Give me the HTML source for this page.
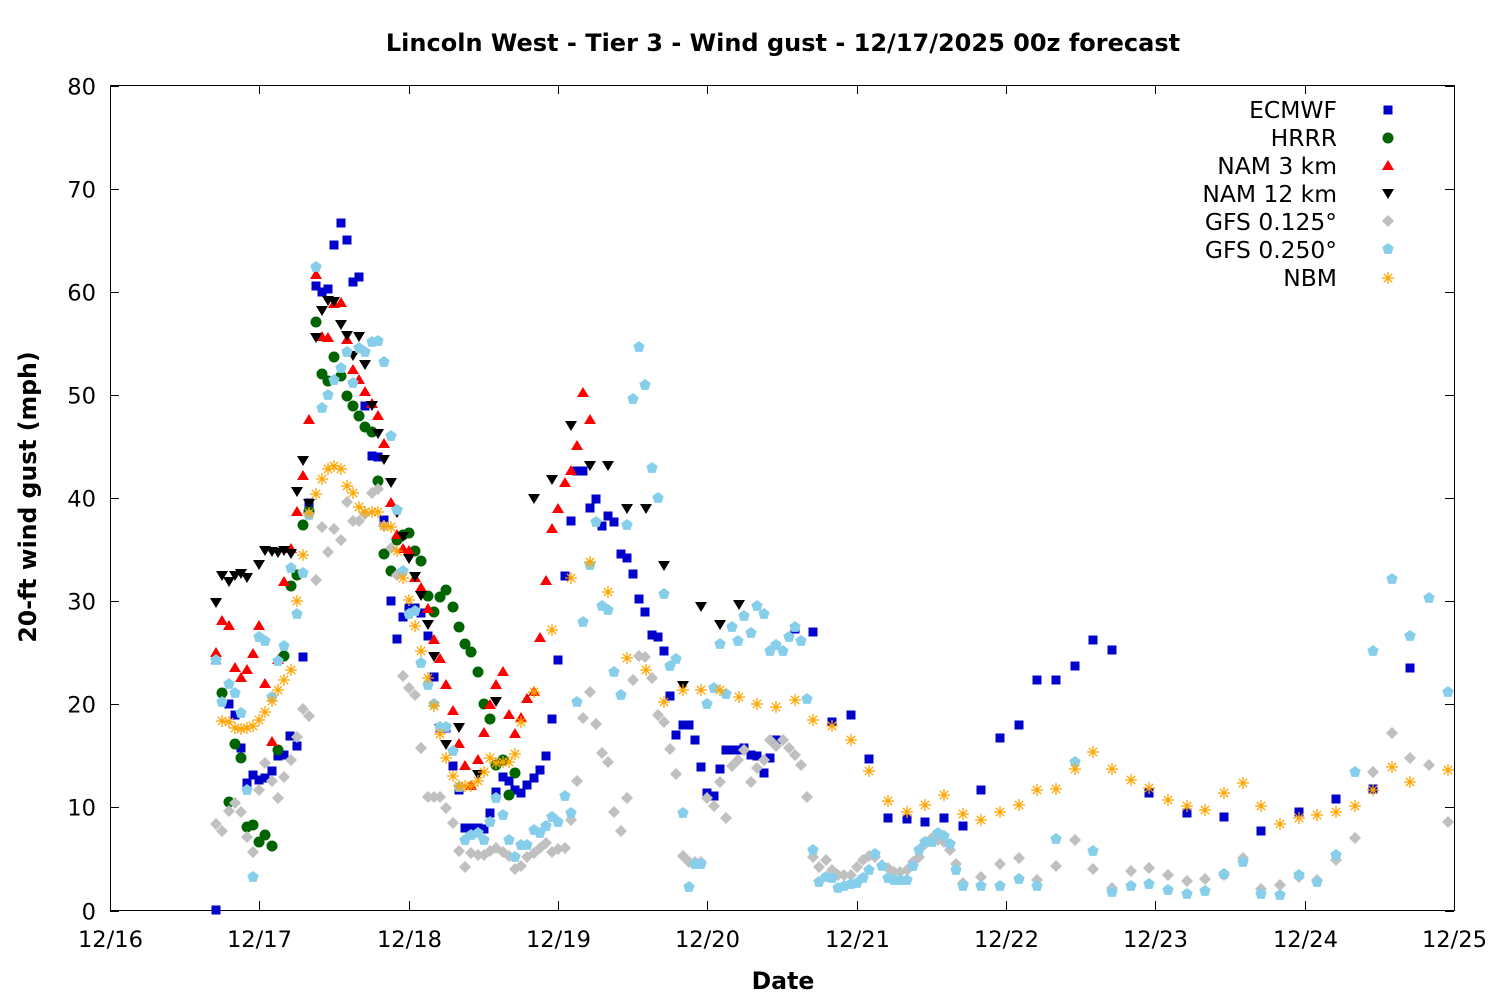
<!DOCTYPE html>
<html><head><meta charset="utf-8"><style>
html,body{margin:0;padding:0;background:#fff}
svg{display:block;font-family:"DejaVu Sans","Liberation Sans",sans-serif}
</style></head><body>
<svg id="c" width="1500" height="1000" xmlns="http://www.w3.org/2000/svg">
<rect width="1500" height="1000" fill="#fff"/>
<text x="783" y="51" font-size="24" font-weight="bold" text-anchor="middle">Lincoln West - Tier 3 - Wind gust - 12/17/2025 00z forecast</text>
<text x="783" y="989" font-size="23.6" font-weight="bold" text-anchor="middle">Date</text>
<text transform="translate(36,497) rotate(-90)" font-size="23.6" font-weight="bold" text-anchor="middle">20-ft wind gust (mph)</text>
<g id="axes" stroke="#000" stroke-width="1" fill="none"></g>
<g id="lab" font-size="22.6"></g>
<g id="pts"></g>
<g font-size="23.4" text-anchor="end">
<text x="1337" y="118">ECMWF</text><text x="1337" y="146">HRRR</text><text x="1337" y="174">NAM 3 km</text><text x="1337" y="202">NAM 12 km</text><text x="1337" y="230">GFS 0.125°</text><text x="1337" y="258">GFS 0.250°</text><text x="1337" y="286">NBM</text>
</g>
</svg>
<script>
var NS="http://www.w3.org/2000/svg";
function el(p,t,a){var e=document.createElementNS(NS,t);for(var k in a)e.setAttribute(k,a[k]);p.appendChild(e);return e;}
var ax=document.getElementById('axes'),lab=document.getElementById('lab'),pts=document.getElementById('pts');
el(ax,'rect',{x:110.5,y:85.5,width:1344,height:825});
for(var i=0;i<=8;i++){var y=910.5-i*103.125;y=Math.round(y)+0.5;
el(ax,'path',{d:'M110 '+y+'h9M1454 '+y+'h-9'});
var t=el(lab,'text',{x:96,y:y+8,'text-anchor':'end'});t.textContent=(i*10);}
var dl=['12/16','12/17','12/18','12/19','12/20','12/21','12/22','12/23','12/24','12/25'];
for(var i=0;i<=9;i++){var x=Math.round(110+i*149.33)+0.5;
el(ax,'path',{d:'M'+x+' 910v-9M'+x+' 85v9'});
var t=el(lab,'text',{x:x,y:947,'text-anchor':'middle'});t.textContent=dl[i];}
function P(s){var a=s.split(/[(),\s]+/).filter(function(v){return v!=='';}).map(Number);var r=[];for(var i=0;i+1<a.length;i+=2)r.push([a[i],a[i+1]]);return r;}
var E=P("(216,910),(216,660),(229,704),(235,715),(241,748),(247,783),(253,775),(259,780),(265,778),(272,771),(278,756),(284,755),(290,736),(297,746),(303,657),(309,503),(316,286),(322,292),(328,289),(334,245),(341,223),(347,240),(353,282),(359,277),(365,406),(372,456),(378,457),(384,520),(391,601),(397,639),(403,617),(409,608),(415,608),(421,613),(428,636),(434,677),(440,728),(446,728),(453,766),(459,790),(465,828),(471,828),(478,828),(484,829),(490,813),(496,792),(503,777),(509,781),(515,790),(521,793),(527,785),(534,778),(540,770),(546,756),(552,719),(558,660),(565,576),(571,521),(577,471),(583,471),(590,508),(596,499),(602,526),(608,516),(614,522),(621,554),(627,558),(633,574),(639,599),(645,612),(652,635),(658,637),(664,651),(670,696),(676,735),(683,725),(689,725),(695,740),(701,767),(707,793),(714,796),(720,769),(726,750),(732,750),(738,750),(744,748),(751,755),(757,756),(764,773),(770,758),(776,740),(795,629),(813,632),(832,722),(851,715),(869,759),(888,818),(907,819),(925,822),(944,818),(963,826),(981,790),(1000,738),(1019,725),(1037,680),(1056,680),(1075,666),(1093,640),(1112,650),(1149,793),(1187,813),(1224,817),(1261,831),(1299,812),(1336,799),(1373,789),(1410,668)");
var H=P("(222,693),(229,802),(235,744),(241,758),(247,827),(253,825),(259,842),(265,835),(272,846),(278,750),(284,656),(291,586),(297,575),(303,525),(309,511),(316,322),(322,374),(328,381),(334,357),(341,376),(347,396),(353,406),(359,416),(365,427),(372,432),(378,481),(384,554),(391,571),(397,540),(403,535),(409,533),(415,551),(421,561),(428,596),(434,612),(440,597),(446,590),(453,607),(459,627),(465,644),(471,652),(478,672),(484,704),(490,719),(496,765),(503,760),(509,795),(515,773)");
var N3=P("(216,653),(222,621),(229,626),(235,668),(241,678),(247,670),(253,654),(259,626),(265,684),(272,742),(278,660),(284,582),(291,549),(297,512),(303,476),(309,420),(316,275),(322,337),(328,338),(334,304),(341,303),(347,340),(353,370),(359,380),(365,392),(372,404),(378,416),(384,444),(391,503),(397,535),(403,549),(409,551),(415,578),(421,588),(428,609),(434,640),(440,659),(446,685),(453,711),(459,744),(465,766),(471,786),(478,760),(484,733),(490,705),(496,685),(503,672),(509,715),(515,734),(521,718),(527,699),(534,692),(540,638),(546,581),(552,529),(558,509),(565,483),(571,471),(577,446),(583,393),(590,420)");
var N12=P("(216,602),(222,575),(229,581),(235,575),(241,573),(247,577),(259,564),(265,550),(272,551),(278,552),(284,550),(291,553),(297,491),(303,460),(309,503),(316,337),(322,310),(328,300),(334,301),(341,324),(347,335),(353,355),(359,336),(365,364),(372,405),(378,433),(384,459),(391,482),(397,512),(403,536),(409,558),(415,576),(421,595),(428,624),(434,656),(440,728),(446,744),(459,727),(478,774),(496,701),(534,498),(552,479),(571,425),(590,465),(608,465),(627,508),(646,508),(664,565),(683,685),(701,606),(720,624),(739,604)");
var G1=P("(216,824),(222,831),(229,811),(235,803),(241,812),(247,837),(253,852),(259,790),(265,763),(272,781),(278,798),(284,777),(291,760),(297,737),(303,709),(309,716),(316,580),(322,527),(328,552),(334,529),(341,540),(347,502),(353,521),(359,521),(365,514),(372,493),(378,489),(384,526),(391,548),(397,575),(403,676),(409,688),(415,695),(421,748),(428,797),(434,797),(440,797),(446,808),(453,823),(459,851),(465,867),(471,853),(478,855),(484,855),(490,851),(496,848),(503,852),(509,856),(515,869),(521,866),(527,857),(534,853),(540,848),(546,843),(552,852),(558,849),(565,848),(571,820),(577,781),(583,718),(590,692),(596,724),(602,753),(608,762),(614,812),(621,831),(627,798),(633,680),(639,656),(645,657),(652,678),(658,715),(664,722),(670,749),(676,774),(683,856),(689,862),(695,862),(701,862),(707,798),(714,806),(720,782),(726,818),(732,766),(738,760),(744,750),(751,782),(757,768),(764,760),(770,740),(776,746),(783,740),(789,748),(795,755),(801,765),(807,797),(813,857),(819,867),(826,860),(832,870),(838,875),(844,875),(851,875),(857,867),(863,860),(869,856),(875,857),(882,865),(888,868),(894,872),(900,872),(907,870),(913,862),(919,857),(925,844),(932,838),(938,840),(944,842),(950,850),(956,864),(963,883),(981,877),(1000,864),(1019,858),(1037,880),(1056,866),(1075,840),(1093,869),(1112,888),(1131,871),(1149,868),(1168,875),(1187,881),(1205,879),(1224,875),(1243,858),(1261,889),(1280,885),(1299,877),(1317,880),(1336,860),(1355,838),(1373,772),(1392,733),(1410,758),(1429,765),(1448,822)");
var G2=P("(216,660),(222,702),(229,684),(235,693),(241,713),(247,790),(253,877),(259,637),(265,641),(272,697),(278,661),(284,646),(291,568),(297,614),(303,573),(309,515),(316,267),(322,408),(328,395),(334,380),(341,368),(347,352),(353,383),(359,348),(365,352),(372,342),(378,341),(384,362),(391,436),(397,510),(403,571),(409,614),(415,611),(421,663),(428,685),(434,704),(440,727),(446,727),(453,751),(459,787),(465,840),(471,835),(478,833),(484,840),(490,822),(496,798),(503,815),(509,840),(515,857),(521,845),(527,845),(534,830),(540,833),(546,826),(552,817),(558,822),(565,796),(571,813),(577,702),(583,622),(590,565),(596,522),(602,606),(608,610),(614,672),(621,695),(627,525),(633,399),(639,347),(645,385),(652,468),(658,498),(664,594),(670,666),(676,659),(683,813),(689,887),(695,864),(701,864),(707,704),(714,688),(720,644),(726,694),(732,627),(738,641),(744,616),(751,633),(757,606),(764,614),(770,651),(776,645),(783,651),(789,637),(795,627),(801,641),(807,699),(813,850),(819,882),(826,877),(832,878),(838,888),(844,886),(851,884),(857,883),(863,878),(869,870),(875,854),(882,866),(888,878),(894,880),(900,880),(907,880),(913,866),(919,850),(925,842),(932,842),(938,833),(944,836),(950,844),(956,870),(963,886),(981,886),(1000,886),(1019,879),(1037,886),(1056,839),(1075,762),(1093,851),(1112,892),(1131,886),(1149,884),(1168,890),(1187,894),(1205,891),(1224,874),(1243,862),(1261,894),(1280,895),(1299,875),(1317,882),(1336,855),(1355,772),(1373,651),(1392,579),(1410,636),(1429,598),(1448,692)");
var NB=P("(222,721),(229,722),(235,728),(241,729),(247,728),(253,726),(259,720),(265,712),(272,701),(278,690),(284,680),(291,670),(297,601),(303,555),(309,513),(316,494),(322,479),(328,469),(334,466),(341,469),(347,486),(353,493),(359,507),(365,512),(372,512),(378,512),(384,526),(391,527),(397,551),(403,578),(409,600),(415,626),(421,651),(428,678),(434,706),(440,734),(446,758),(453,776),(459,786),(465,786),(471,786),(478,781),(484,772),(490,758),(496,763),(503,762),(509,762),(515,754),(521,722),(534,692),(552,630),(571,578),(590,562),(608,592),(627,658),(646,670),(664,702),(683,690),(701,690),(720,690),(739,697),(757,704),(776,707),(795,700),(813,720),(832,726),(851,740),(869,771),(888,801),(907,812),(925,805),(944,795),(963,814),(981,820),(1000,812),(1019,805),(1037,790),(1056,789),(1075,769),(1093,752),(1112,769),(1131,780),(1149,788),(1168,800),(1187,806),(1205,810),(1224,793),(1243,783),(1261,806),(1280,824),(1299,818),(1317,815),(1336,812),(1355,806),(1373,790),(1392,767),(1410,782),(1448,770)");
function sq(x,y){el(pts,'rect',{x:x-4.5,y:y-4.5,width:9,height:9,fill:'#0000cc'});}
function ci(x,y){el(pts,'circle',{cx:x,cy:y,r:5.5,fill:'#006400'});}
function tu(x,y){el(pts,'path',{d:'M'+x+' '+(y-6)+'l6 10h-12z',fill:'#ff0000'});}
function td(x,y){el(pts,'path',{d:'M'+x+' '+(y+6)+'l6 -10h-12z',fill:'#000'});}
function di(x,y){el(pts,'path',{d:'M'+x+' '+(y-6)+'l6 6l-6 6l-6 -6z',fill:'#c0c0c0'});}
function pe(x,y){var d='';for(var i=0;i<5;i++){var a=-Math.PI/2+i*2*Math.PI/5;d+=(i?'L':'M')+(x+6*Math.cos(a)).toFixed(1)+' '+(y+6*Math.sin(a)).toFixed(1);}el(pts,'path',{d:d+'z',fill:'#87ceeb'});}
function st(x,y){el(pts,'path',{d:'M'+(x-6)+' '+y+'h12M'+x+' '+(y-6)+'v12M'+(x-4.2)+' '+(y-4.2)+'l8.4 8.4M'+(x-4.2)+' '+(y+4.2)+'l8.4 -8.4',stroke:'#ffa500','stroke-width':1.3,fill:'none'});}
[[E,sq],[H,ci],[N3,tu],[N12,td],[G1,di],[G2,pe],[NB,st]].forEach(function(s){s[0].forEach(function(p){s[1](p[0],p[1]);});});
sq(1388,110);ci(1388,138);tu(1388,166);td(1388,193);di(1388,221);pe(1388,249);st(1388,278);
</script>
</body></html>
